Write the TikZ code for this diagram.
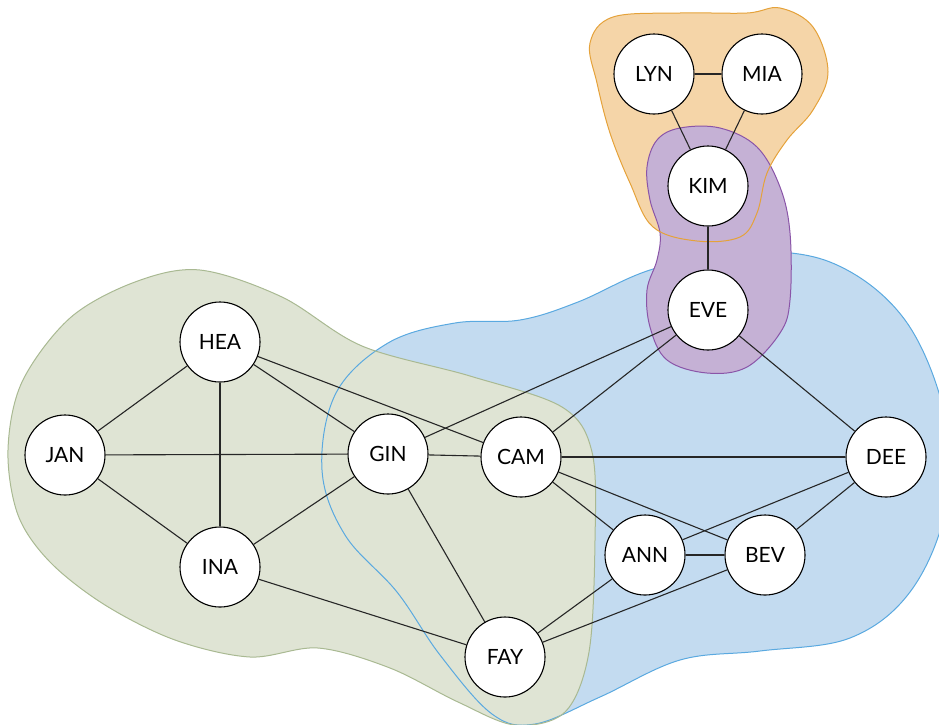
\documentclass[tikz,border=0pt]{standalone}
\usepackage{fontspec}
\setmainfont{Lato}
\definecolor{greenfill}{HTML}{DFE4D4}
\definecolor{greenline}{HTML}{A9B992}
\definecolor{bluefill}{HTML}{C3DBF0}
\definecolor{blueline}{HTML}{5AA9E0}
\definecolor{orangefill}{HTML}{F5D5A8}
\definecolor{orangeline}{HTML}{E5A23A}
\definecolor{purplefill}{HTML}{C5B1D5}
\definecolor{purpleline}{HTML}{8A55A8}
\begin{document}
\begin{tikzpicture}[x=1pt,y=-1pt,
  person/.style={circle,draw=black,line width=1.1pt,fill=white,minimum size=80pt,inner sep=0pt,font=\fontsize{21}{21}\selectfont},
  tie/.style={line width=1.1pt,black!85},
  blob/.style={line width=1pt}]
\useasboundingbox (0,0) rectangle (939,724);

% outlines of the groups
\def\bluepath{plot[smooth cycle,tension=0.6] coordinates {
  (322,470) (336,393) (388,343) (455,323) (520,320) (578,302) (650,270)
  (735,252) (830,262) (905,320) (946,420) (945,512) (910,592) (850,638)
  (760,651) (680,660) (600,697) (535,724) (492,714) (440,655) (397,592) (345,535)}}
\def\greenpath{plot[smooth cycle,tension=0.55] coordinates {
  (8,450) (22,382) (70,318) (135,282) (200,270) (282,297) (362,346) (470,376)
  (562,407) (592,452) (595,540) (589,652) (565,712) (515,725) (458,702)
  (390,668) (318,648) (250,657) (175,640) (105,605) (50,562) (18,515)}}
\def\orangepath{plot[smooth cycle,tension=0.6] coordinates {
  (590,43) (613,17) (680,13) (747,13) (780,8) (813,27) (828,72) (813,110)
  (787,140) (767,173) (757,213) (740,237) (697,241) (653,227) (630,183)
  (610,133) (597,83)}}
\def\purplepath{plot[smooth cycle,tension=0.6] coordinates {
  (647,167) (657,140) (680,128) (720,128) (757,147) (780,187) (790,233)
  (790,300) (780,333) (747,367) (707,373) (667,360) (650,327) (647,290)
  (657,260) (660,233) (650,200)}}

\path[fill=bluefill] \bluepath;
\path[fill=greenfill] \greenpath;
\draw[blob,blueline] \bluepath;
\draw[blob,greenline] \greenpath;
\path[fill=orangefill] \orangepath;
\path[fill=purplefill,draw=purpleline,blob] \purplepath;
\draw[blob,orangeline] \orangepath;

% people
\node[person] (lyn) at (654,74) {LYN};
\node[person] (mia) at (762,74) {MIA};
\node[person] (kim) at (708,186) {KIM};
\node[person] (eve) at (708,310) {EVE};
\node[person] (hea) at (220,342) {HEA};
\node[person] (jan) at (65,455) {JAN};
\node[person] (gin) at (388,454) {GIN};
\node[person] (cam) at (521,457) {CAM};
\node[person] (dee) at (886,457) {DEE};
\node[person] (ina) at (220,567) {INA};
\node[person] (ann) at (645,555) {ANN};
\node[person] (bev) at (765,555) {BEV};
\node[person] (fay) at (505,657) {FAY};

% ties between people
\foreach \a/\b in {lyn/mia,lyn/kim,mia/kim,kim/eve,eve/gin,eve/cam,eve/dee,
  hea/jan,hea/ina,hea/gin,hea/cam,jan/gin,jan/ina,ina/gin,ina/fay,gin/cam,
  gin/fay,cam/dee,cam/ann,cam/bev,ann/bev,ann/dee,ann/fay,bev/dee,bev/fay}
  \draw[tie] (\a) -- (\b);
\end{tikzpicture}
\end{document}
